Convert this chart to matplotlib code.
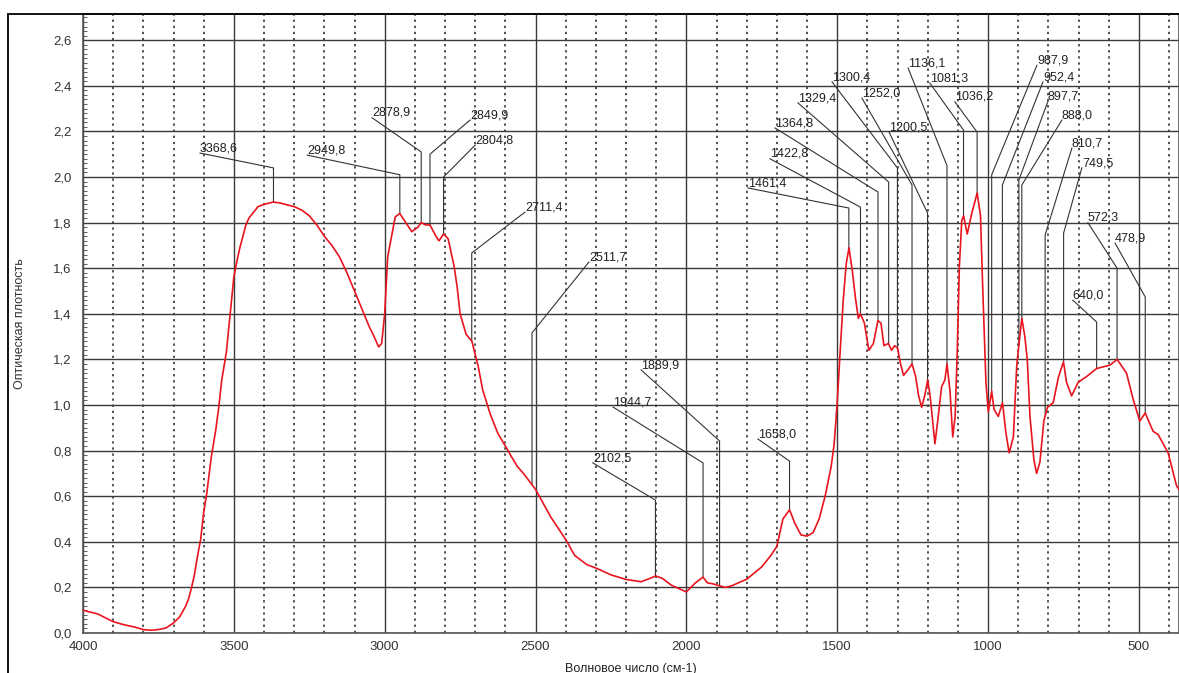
import numpy as np
import matplotlib
matplotlib.use("Agg")
import matplotlib.pyplot as plt
from matplotlib.patches import Rectangle
from matplotlib.ticker import MultipleLocator, FuncFormatter

plt.rcParams['font.family'] = ['Liberation Sans', 'DejaVu Sans']

# spectrum (wavenumber, optical density)
wavenumber = [4000, 3950, 3925, 3900, 3875, 3850, 3825, 3800, 3775, 3750, 3725, 3700,
              3680, 3660, 3650, 3640, 3630, 3620, 3610, 3600, 3590, 3575, 3560, 3550,
              3540, 3525, 3510, 3500, 3490, 3480, 3460, 3450, 3420, 3400, 3370, 3350,
              3300, 3275, 3250, 3225, 3200, 3175, 3150, 3125, 3100, 3075, 3050, 3035,
              3020, 3010, 3000, 2990, 2980, 2965, 2950, 2930, 2910, 2890, 2879, 2865,
              2850, 2830, 2820, 2805, 2790, 2770, 2760, 2750, 2730, 2711, 2690, 2675,
              2650, 2625, 2600, 2580, 2560, 2540, 2500, 2475, 2450, 2425, 2400, 2370,
              2350, 2330, 2300, 2250, 2200, 2150, 2120, 2102, 2080, 2050, 2000, 1970,
              1945, 1930, 1910, 1890, 1870, 1850, 1800, 1750, 1720, 1700, 1680, 1658,
              1640, 1620, 1600, 1580, 1560, 1540, 1520, 1510, 1500, 1490, 1480, 1470,
              1461, 1450, 1440, 1430, 1423, 1410, 1395, 1380, 1365, 1355, 1345, 1330,
              1320, 1310, 1300, 1290, 1280, 1265, 1252, 1240, 1230, 1220, 1210, 1200,
              1192, 1176, 1165, 1154, 1143, 1136, 1126, 1117, 1109, 1102, 1095, 1087,
              1081, 1069, 1054, 1036, 1025, 1018, 1007, 999, 988, 980, 966, 952,
              941, 930, 916, 905, 898, 888, 878, 870, 861, 848, 839, 828,
              815, 803, 784, 767, 750, 740, 723, 701, 673, 640, 596, 572,
              541, 519, 497, 479, 453, 436, 403, 375, 367]
absorbance = [0.10, 0.083, 0.066, 0.05, 0.04, 0.032, 0.025, 0.015, 0.012, 0.015, 0.022, 0.044,
              0.07, 0.117, 0.15, 0.20, 0.26, 0.34, 0.41, 0.53, 0.61, 0.77, 0.89, 0.99,
              1.11, 1.23, 1.43, 1.56, 1.63, 1.69, 1.79, 1.82, 1.87, 1.88, 1.89, 1.887,
              1.87, 1.855, 1.83, 1.79, 1.74, 1.70, 1.65, 1.58, 1.50, 1.42, 1.34, 1.30,
              1.255, 1.27, 1.40, 1.65, 1.72, 1.825, 1.84, 1.80, 1.76, 1.78, 1.80, 1.79,
              1.79, 1.74, 1.72, 1.75, 1.73, 1.61, 1.52, 1.40, 1.31, 1.28, 1.17, 1.065,
              0.96, 0.876, 0.82, 0.774, 0.73, 0.70, 0.63, 0.57, 0.51, 0.46, 0.41, 0.34,
              0.32, 0.30, 0.285, 0.255, 0.235, 0.225, 0.24, 0.25, 0.24, 0.21, 0.18, 0.22,
              0.245, 0.22, 0.215, 0.207, 0.20, 0.207, 0.236, 0.29, 0.34, 0.38, 0.50, 0.54,
              0.48, 0.43, 0.425, 0.44, 0.50, 0.60, 0.73, 0.83, 1.01, 1.24, 1.46, 1.62,
              1.69, 1.59, 1.475, 1.38, 1.40, 1.36, 1.24, 1.27, 1.37, 1.36, 1.26, 1.27,
              1.24, 1.26, 1.25, 1.18, 1.13, 1.155, 1.18, 1.125, 1.04, 0.99, 1.04, 1.11,
              1.04, 0.83, 0.95, 1.08, 1.11, 1.18, 1.06, 0.86, 0.95, 1.24, 1.61, 1.81,
              1.83, 1.75, 1.84, 1.93, 1.83, 1.53, 1.10, 0.97, 1.06, 0.98, 0.95, 1.01,
              0.88, 0.79, 0.86, 1.17, 1.26, 1.38, 1.30, 1.20, 0.95, 0.76, 0.70, 0.75,
              0.93, 0.99, 1.01, 1.12, 1.19, 1.10, 1.04, 1.10, 1.125, 1.16, 1.175, 1.20,
              1.14, 1.025, 0.93, 0.965, 0.885, 0.87, 0.79, 0.645, 0.63]

# peak labels: text, elbow height, text anchor (wavenumber, density)
peak_labels = ["3368,6", "2949,8", "2878,9", "2849,9", "2804,8", "2711,4", "2511,7",
               "2102,5", "1944,7", "1889,9", "1658,0", "1461,4", "1422,8", "1364,8",
               "1329,4", "1300,4", "1252,0", "1200,5", "1136,1", "1081,3", "1036,2",
               "987,9", "952,4", "897,7", "888,0", "810,7", "749,5", "640,0", "572,3",
               "478,9"]
elbow_y = [2.04, 2.01, 2.11, 2.10, 2.00, 1.667, 1.316, 0.583, 0.746, 0.842, 0.754,
           1.864, 1.868, 1.934, 1.978, 2.04, 1.965, 1.842, 2.05, 2.206, 2.197, 2.01,
           1.965, 1.987, 1.965, 1.746, 1.754, 1.364, 1.60, 1.474]
text_x = [3612, 3257, 3042, 2717, 2700, 2535, 2323, 2310, 2243, 2150, 1763, 1796,
          1723, 1706, 1630, 1517, 1418, 1328, 1265, 1193, 1110, 838, 818, 802, 755,
          722, 689, 719, 669, 579]
text_y = [2.105, 2.096, 2.26, 2.25, 2.14, 1.846, 1.627, 0.746, 0.991, 1.154, 0.851,
          1.952, 2.08, 2.215, 2.325, 2.417, 2.346, 2.197, 2.478, 2.412, 2.33, 2.49,
          2.417, 2.33, 2.25, 2.127, 2.04, 1.46, 1.80, 1.71]

W, H = 1179, 673
fig = plt.figure(figsize=(W / 100, H / 100), dpi=100)
ax = fig.add_axes([83 / W, 40 / H, (W - 83) / W, (633 - 14) / H])

ax.plot(wavenumber, absorbance, color="#e8141e", lw=1.2, zorder=3)

# peak marker lines
wn_rev = np.array(wavenumber[::-1], dtype=float)
ab_rev = np.array(absorbance[::-1], dtype=float)
for lab, ey, tx, ty in zip(peak_labels, elbow_y, text_x, text_y):
    px = float(lab.replace(",", "."))
    py = np.interp(px, wn_rev, ab_rev)
    ax.plot([tx, px, px], [ty, ey, py], color="#333333", lw=0.8, zorder=2)
    ax.text(tx, ty - 0.005, lab, ha="left", va="bottom", fontsize=9,
            color="#222222", zorder=4)

ax.set_xlim(4000, 367)
ax.set_ylim(0, 2.715)
ax.xaxis.set_major_locator(MultipleLocator(500))
ax.xaxis.set_minor_locator(MultipleLocator(100))
ax.yaxis.set_major_locator(MultipleLocator(0.2))
ax.yaxis.set_minor_locator(MultipleLocator(0.02))
ax.yaxis.set_major_formatter(FuncFormatter(lambda v, p: f"{v:.1f}".replace(".", ",")))

ax.grid(which="major", color="#3a3a3a", lw=1.0, ls="-")
ax.grid(which="minor", axis="x", color="#222222", lw=1.1, ls=(0, (1.5, 2.5)))
ax.tick_params(which="major", length=0, labelsize=9.5, labelcolor="#333333")
ax.tick_params(axis="y", which="major", pad=8)
ax.tick_params(axis="x", which="major", pad=6)
ax.tick_params(axis="x", which="minor", length=0)
ax.tick_params(axis="y", which="minor", length=3, direction="in", color="#444444")
for s in ax.spines.values():
    s.set_color("#555555")
    s.set_linewidth(1.2)

ax.set_ylabel("Оптическая плотность", fontsize=9, color="#333333", labelpad=20)
ax.set_xlabel("Волновое число (см-1)", fontsize=9, color="#222222", labelpad=7)

fig.add_artist(Rectangle((8 / W, -0.1), 1.2, (H - 14) / H + 0.1,
                         transform=fig.transFigure, fill=False, ec="black", lw=1.3))

fig.savefig("out.png", dpi=100)
